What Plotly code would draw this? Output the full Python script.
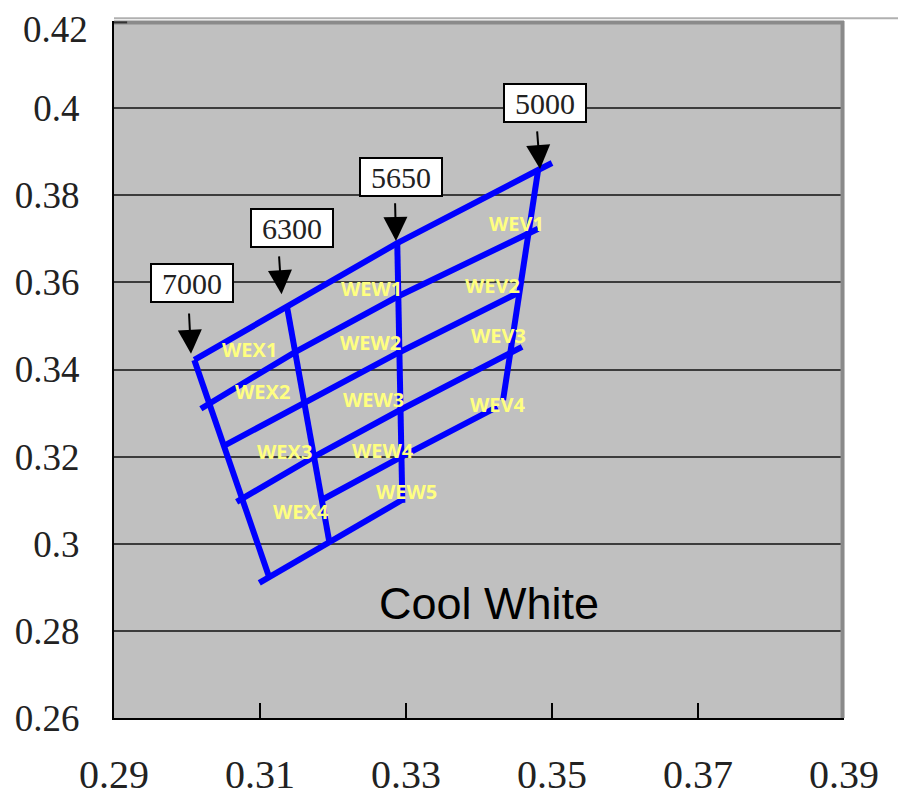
import plotly.graph_objects as go

# ---------------- data (chromaticity x, y) ----------------
# slanted lines (top to bottom)
row1_x = [0.3010, 0.3137, 0.3288, 0.3481, 0.3500]
row1_y = [0.3422, 0.3544, 0.3690, 0.3858, 0.3874]
row2_x = [0.3019, 0.3148, 0.3288, 0.3481]
row2_y = [0.3310, 0.3440, 0.3567, 0.3723]
row3_x = [0.3053, 0.3159, 0.3289, 0.3456]
row3_y = [0.3227, 0.3323, 0.3438, 0.3578]
row4_x = [0.3068, 0.3173, 0.3292, 0.3459]
row4_y = [0.3096, 0.3199, 0.3307, 0.3452]
row5_x = [0.3185, 0.3293, 0.3425]
row5_y = [0.3101, 0.3199, 0.3314]
row6_x = [0.3099, 0.3195, 0.3295]
row6_y = [0.2910, 0.3004, 0.3101]

# CCT (iso-temperature) lines
cct_names = ["7000", "6300", "5650", "5000"]
cct_x0 = [0.3010, 0.3137, 0.3288, 0.3481]
cct_y0 = [0.3422, 0.3544, 0.3693, 0.3858]
cct_x1 = [0.3112, 0.3195, 0.3295, 0.3433]
cct_y1 = [0.2926, 0.3004, 0.3094, 0.3330]

# CCT label boxes and arrows
box_x = [0.30068, 0.31434, 0.32932, 0.34908]
box_y = [0.3598, 0.3725, 0.3843, 0.4011]
tip_x = [0.30055, 0.31295, 0.32863, 0.34836]
tip_y = [0.3436, 0.3573, 0.3695, 0.3860]
tail_x = [0.30027, 0.31260, 0.32850, 0.34795]
tail_y = [0.3532, 0.3663, 0.3785, 0.3950]

# bin labels
bin_names = ["WEX1", "WEX2", "WEX3", "WEX4",
             "WEW1", "WEW2", "WEW3", "WEW4", "WEW5",
             "WEV1", "WEV2", "WEV3", "WEV4"]
bin_x = [0.3086, 0.3103, 0.3133, 0.3156,
         0.3253, 0.3252, 0.3256, 0.3268, 0.3300,
         0.3452, 0.3419, 0.3427, 0.3426]
bin_y = [0.3445, 0.3349, 0.3211, 0.3073,
         0.3587, 0.3461, 0.3330, 0.3215, 0.3119,
         0.3736, 0.3592, 0.3477, 0.3319]

x_ticks = [0.29, 0.31, 0.33, 0.35, 0.37, 0.39]
x_ticktext = ["0.29", "0.31", "0.33", "0.35", "0.37", "0.39"]
y_ticks = [0.26, 0.28, 0.30, 0.32, 0.34, 0.36, 0.38, 0.40, 0.42]
y_ticktext = ["0.26", "0.28", "0.3", "0.32", "0.34", "0.36", "0.38", "0.4", "0.42"]

chart_title = "Cool White"
title_x, title_y = 0.3414, 0.2862

BLUE = "#0000ff"
fig = go.Figure()

for xs, ys in [(row1_x, row1_y), (row2_x, row2_y), (row3_x, row3_y),
               (row4_x, row4_y), (row5_x, row5_y), (row6_x, row6_y)]:
    fig.add_trace(go.Scatter(x=xs, y=ys, mode="lines",
                             line=dict(color=BLUE, width=6),
                             hoverinfo="skip", showlegend=False))

for i in range(len(cct_names)):
    fig.add_trace(go.Scatter(x=[cct_x0[i], cct_x1[i]], y=[cct_y0[i], cct_y1[i]],
                             mode="lines", line=dict(color=BLUE, width=6),
                             name=cct_names[i], hoverinfo="skip", showlegend=False))

annotations = []
for i, name in enumerate(cct_names):
    annotations.append(dict(
        x=tip_x[i], y=tip_y[i], ax=tail_x[i], ay=tail_y[i],
        xref="x", yref="y", axref="x", ayref="y",
        text="", showarrow=True, arrowhead=2, arrowsize=2.4,
        arrowwidth=2, arrowcolor="black"))
    annotations.append(dict(
        x=box_x[i], y=box_y[i], xref="x", yref="y", text=name,
        showarrow=False, bgcolor="white", bordercolor="black",
        borderwidth=2, borderpad=0, width=80, height=36,
        font=dict(family="Liberation Serif", size=30, color="#222222")))

for n, bx, by in zip(bin_names, bin_x, bin_y):
    annotations.append(dict(
        x=bx, y=by, xref="x", yref="y", text="<b>" + n + "</b>",
        showarrow=False,
        font=dict(family="Open Sans", size=20, color="#ffff80")))

annotations.append(dict(
    x=title_x, y=title_y, xref="x", yref="y", text=chart_title,
    showarrow=False, xanchor="center",
    font=dict(family="Liberation Sans", size=45, color="black")))

# the topmost y tick label is drawn as an annotation nudged down,
# so it stays fully inside the page
TICKFONT_Y = dict(family="Liberation Serif", size=37, color="#222222")
annotations.append(dict(
    x=0, xref="paper", xanchor="right", xshift=-25,
    y=y_ticks[-1], yref="y", yanchor="middle", yshift=-8, borderpad=0,
    text=y_ticktext[-1], showarrow=False, font=TICKFONT_Y))
y_ticktext_axis = y_ticktext[:-1] + [""]

shapes = [
    # thin light line continuing to the right along the top
    dict(type="line", xref="paper", yref="paper", x0=0, x1=1.09, y0=1.004, y1=1.004,
         line=dict(color="#b0b0b0", width=2)),
    # top border (gray)
    dict(type="line", xref="paper", yref="paper", x0=0, x1=1.0, y0=0.998, y1=0.998,
         line=dict(color="#8a8a8a", width=4)),
    # right border
    dict(type="line", xref="paper", yref="paper", x0=0.998, x1=0.998, y0=0, y1=1,
         line=dict(color="#8a8a8a", width=4)),
    # small tick at top-left
    dict(type="line", xref="paper", yref="paper", x0=0, x1=0.018, y0=0.998, y1=0.998,
         line=dict(color="#333333", width=2)),
]

# page body has an 8px margin, so the figure is sized/margined to compensate
fig.update_layout(
    width=890, height=795,
    margin=dict(l=106, r=54, t=13, b=85),
    paper_bgcolor="white", plot_bgcolor="#c0c0c0",
    annotations=annotations, shapes=shapes,
    showlegend=False,
    xaxis=dict(range=[0.29, 0.39], tickvals=x_ticks, ticktext=x_ticktext,
               automargin=False, ticklabeloverflow="allow",
               showgrid=False, zeroline=False,
               showline=True, linecolor="black", linewidth=2,
               ticks="inside", ticklen=15, tickwidth=1.5, tickcolor="black",
               ticklabelstandoff=20,
               tickfont=dict(family="Liberation Serif", size=40, color="#222222")),
    yaxis=dict(range=[0.26, 0.42], tickvals=y_ticks, ticktext=y_ticktext_axis,
               automargin=False, ticklabeloverflow="allow",
               showgrid=True, gridcolor="#3c3c3c", gridwidth=2,
               zeroline=False, showline=True, linecolor="black", linewidth=2,
               ticks="", ticklabelstandoff=25,
               tickfont=TICKFONT_Y),
)

fig.write_html("out.html")
